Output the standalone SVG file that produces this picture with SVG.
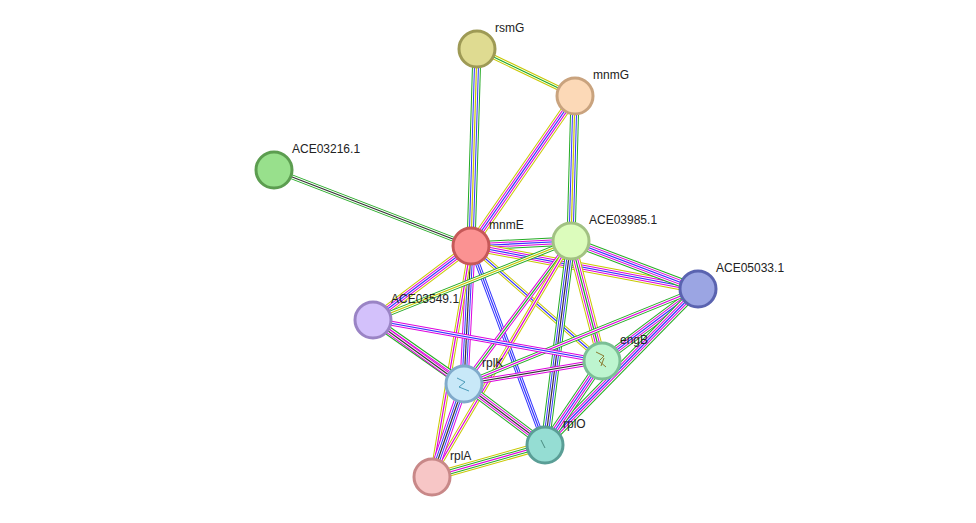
<svg xmlns="http://www.w3.org/2000/svg" xmlns:xlink="http://www.w3.org/1999/xlink" width="976" height="523" viewBox="0 0 976 523">
<style>
.a{fill:none;stroke-width:9}
.w{fill:none;stroke:#fff;stroke-width:7}
.b{fill:none;stroke-width:5}
.w2{fill:none;stroke:#fff;stroke-width:3}
.c{fill:none;stroke-width:1.2}
.n{stroke-width:3}
text{font-family:"Liberation Sans",Arial,sans-serif;font-size:12px;fill:#222}
</style>
<defs>
<path id="e1" d="M477,49L575,96"/>
<path id="e2" d="M477,49L471,246"/>
<path id="e3" d="M575,96L471,246"/>
<path id="e4" d="M575,96L571,241"/>
<path id="e5" d="M274,170L471,246"/>
<path id="e6" d="M471,246L571,241"/>
<path id="e7" d="M471,246L698,289"/>
<path id="e8" d="M471,246L373,320"/>
<path id="e9" d="M471,246L602,361"/>
<path id="e10" d="M471,246L464,384"/>
<path id="e11" d="M471,246L545,445"/>
<path id="e12" d="M471,246L432,477"/>
<path id="e13" d="M571,241L698,289"/>
<path id="e14" d="M571,241L373,320"/>
<path id="e15" d="M571,241L602,361"/>
<path id="e16" d="M571,241L464,384"/>
<path id="e17" d="M571,241L545,445"/>
<path id="e18" d="M698,289L602,361"/>
<path id="e19" d="M698,289L545,445"/>
<path id="e20" d="M698,289L464,384"/>
<path id="e21" d="M373,320L602,361"/>
<path id="e22" d="M373,320L464,384"/>
<path id="e23" d="M373,320L545,445"/>
<path id="e24" d="M464,384L602,361"/>
<path id="e25" d="M464,384L545,445"/>
<path id="e26" d="M464,384L432,477"/>
<path id="e27" d="M545,445L432,477"/>
<path id="e28" d="M602,361L545,445"/>
<path id="e29" d="M571,241L432,477"/>
</defs>
<g id="connectors">
<use href="#e1" class="b" stroke="#c8c800"/><use href="#e1" class="w2"/><use href="#e1" class="c" stroke="#2a2"/>
<use href="#e2" class="a" stroke="#2a2"/><use href="#e2" class="w"/><use href="#e2" class="b" stroke="#33f"/><use href="#e2" class="w2"/><use href="#e2" class="c" stroke="#c8c800"/>
<use href="#e3" class="a" stroke="#c8c800"/><use href="#e3" class="w"/><use href="#e3" class="b" stroke="#d0d"/><use href="#e3" class="w2"/><use href="#e3" class="c" stroke="#33f"/>
<use href="#e4" class="a" stroke="#2a2"/><use href="#e4" class="w"/><use href="#e4" class="b" stroke="#33f"/><use href="#e4" class="w2"/><use href="#e4" class="c" stroke="#c8c800"/>
<use href="#e5" class="b" stroke="#2a2"/><use href="#e5" class="w2"/><use href="#e5" class="c" stroke="#333"/>
<use href="#e6" class="a" stroke="#2a2"/><use href="#e6" class="w"/><use href="#e6" class="b" stroke="#d0d"/><use href="#e6" class="w2"/><use href="#e6" class="c" stroke="#33f"/>
<use href="#e7" class="a" stroke="#c8c800"/><use href="#e7" class="w"/><use href="#e7" class="b" stroke="#d0d"/><use href="#e7" class="w2"/><use href="#e7" class="c" stroke="#33f"/>
<use href="#e8" class="a" stroke="#c8c800"/><use href="#e8" class="w"/><use href="#e8" class="b" stroke="#d0d"/><use href="#e8" class="w2"/><use href="#e8" class="c" stroke="#33f"/>
<use href="#e9" class="b" stroke="#c8c800"/><use href="#e9" class="w2"/><use href="#e9" class="c" stroke="#33f"/>
<use href="#e10" class="a" stroke="#d0d"/><use href="#e10" class="w"/><use href="#e10" class="b" stroke="#33f"/><use href="#e10" class="w2"/><use href="#e10" class="c" stroke="#333"/>
<use href="#e11" class="b" stroke="#33f"/><use href="#e11" class="w2"/><use href="#e11" class="c" stroke="#33f"/>
<use href="#e12" class="b" stroke="#c8c800"/><use href="#e12" class="w2"/><use href="#e12" class="c" stroke="#d0d"/>
<use href="#e13" class="a" stroke="#2a2"/><use href="#e13" class="w"/><use href="#e13" class="b" stroke="#d0d"/><use href="#e13" class="w2"/><use href="#e13" class="c" stroke="#33f"/>
<use href="#e14" class="b" stroke="#2a2"/><use href="#e14" class="w2"/><use href="#e14" class="c" stroke="#c8c800"/>
<use href="#e15" class="a" stroke="#c8c800"/><use href="#e15" class="w"/><use href="#e15" class="b" stroke="#d0d"/><use href="#e15" class="w2"/><use href="#e15" class="c" stroke="#2a2"/>
<use href="#e16" class="b" stroke="#d0d"/><use href="#e16" class="w2"/><use href="#e16" class="c" stroke="#2a2"/>
<use href="#e17" class="a" stroke="#2a2"/><use href="#e17" class="w"/><use href="#e17" class="b" stroke="#33f"/><use href="#e17" class="w2"/><use href="#e17" class="c" stroke="#333"/>
<use href="#e29" class="b" stroke="#c8c800"/><use href="#e29" class="w2"/><use href="#e29" class="c" stroke="#d0d"/>
<use href="#e18" class="a" stroke="#2a2"/><use href="#e18" class="w"/><use href="#e18" class="b" stroke="#d0d"/><use href="#e18" class="w2"/><use href="#e18" class="c" stroke="#33f"/>
<use href="#e19" class="a" stroke="#2a2"/><use href="#e19" class="w"/><use href="#e19" class="b" stroke="#d0d"/><use href="#e19" class="w2"/><use href="#e19" class="c" stroke="#33f"/>
<use href="#e20" class="b" stroke="#2a2"/><use href="#e20" class="w2"/><use href="#e20" class="c" stroke="#d0d"/>
<use href="#e21" class="b" stroke="#d0d"/><use href="#e21" class="w2"/><use href="#e21" class="c" stroke="#33f"/>
<use href="#e22" class="a" stroke="#2a2"/><use href="#e22" class="w"/><use href="#e22" class="b" stroke="#d0d"/><use href="#e22" class="w2"/><use href="#e22" class="c" stroke="#333"/>
<use href="#e23" class="b" stroke="#d0d"/><use href="#e23" class="w2"/><use href="#e23" class="c" stroke="#333"/>
<use href="#e24" class="b" stroke="#d0d"/><use href="#e24" class="w2"/><use href="#e24" class="c" stroke="#333"/>
<use href="#e25" class="a" stroke="#2a2"/><use href="#e25" class="w"/><use href="#e25" class="b" stroke="#d0d"/><use href="#e25" class="w2"/><use href="#e25" class="c" stroke="#333"/>
<use href="#e26" class="a" stroke="#d0d"/><use href="#e26" class="w"/><use href="#e26" class="b" stroke="#33f"/><use href="#e26" class="w2"/><use href="#e26" class="c" stroke="#333"/>
<use href="#e27" class="a" stroke="#c8c800"/><use href="#e27" class="w"/><use href="#e27" class="b" stroke="#2a2"/><use href="#e27" class="w2"/><use href="#e27" class="c" stroke="#d0d"/>
<use href="#e28" class="a" stroke="#2a2"/><use href="#e28" class="w"/><use href="#e28" class="b" stroke="#d0d"/><use href="#e28" class="w2"/><use href="#e28" class="c" stroke="#33f"/>
</g>
<g id="rsmG"><circle cx="477" cy="49" r="18" class="n" fill="#dfdb91" stroke="#9e9a55"/><text x="495" y="32">rsmG</text></g>
<g id="mnmG"><circle cx="575" cy="96" r="18" class="n" fill="#fcd9b7" stroke="#c9a37e"/><text x="593" y="79">mnmG</text></g>
<g id="ACE03216.1"><circle cx="274" cy="170" r="18" class="n" fill="#98e08c" stroke="#5c9d50"/><text x="292" y="153">ACE03216.1</text></g>
<g id="mnmE"><circle cx="471" cy="246" r="18" class="n" fill="#fb9292" stroke="#c65858"/><text x="489" y="229">mnmE</text></g>
<g id="ACE03985.1"><circle cx="571" cy="241" r="18" class="n" fill="#dcfcbc" stroke="#a2c283"/><text x="589" y="224">ACE03985.1</text></g>
<g id="ACE05033.1"><circle cx="698" cy="289" r="18" class="n" fill="#9ba5e3" stroke="#5a63b0"/><text x="716" y="272">ACE05033.1</text></g>
<g id="ACE03549.1"><circle cx="373" cy="320" r="18" class="n" fill="#d3c1fb" stroke="#9a84c5"/><text x="391" y="303">ACE03549.1</text></g>
<g id="engB"><circle cx="602" cy="361" r="18" class="n" fill="#bdf5cf" stroke="#7bbf95"/><path d="M596,352l8,4l-5,5l7,6M601,366l3,-8" stroke="#8a7a30" fill="none"/><text x="620" y="344">engB</text></g>
<g id="rplK"><circle cx="464" cy="384" r="18" class="n" fill="#c8e8f8" stroke="#80aacb"/><path d="M457,378l8,4l-6,5l10,4" stroke="#4a9ab8" fill="none"/><text x="482" y="367">rplK</text></g>
<g id="rplO"><circle cx="545" cy="445" r="18" class="n" fill="#95ddd3" stroke="#5a9e96"/><path d="M541,440l4,8" stroke="#4a8a80" fill="none"/><text x="563" y="428">rplO</text></g>
<g id="rplA"><circle cx="432" cy="477" r="18" class="n" fill="#f7c6c6" stroke="#c88888"/><text x="450" y="460">rplA</text></g>
</svg>
